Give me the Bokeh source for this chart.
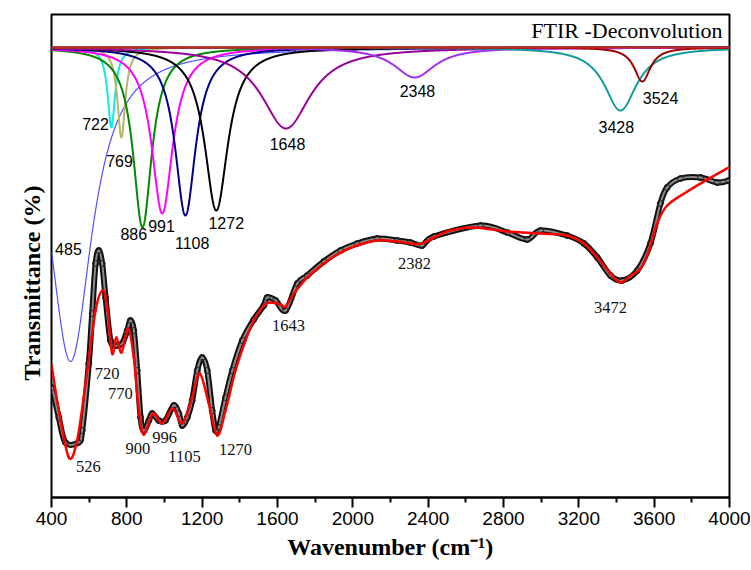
import numpy as np
from bokeh.plotting import figure
from bokeh.models import Range1d, FixedTicker, Label, ColumnDataSource, Span
from bokeh.core.properties import value
from bokeh.embed import file_html
from bokeh.resources import INLINE

# ---------------- data ----------------
# Deconvolution components (Lorentzian bands)
peak_labels = ["485", "722", "769", "886", "991", "1108", "1272", "1648", "2348", "3428", "3524"]
peak_centers = [501, 718, 771, 883, 988, 1111, 1275, 1645, 2328, 3421, 3537]
peak_depths = [314, 80, 90, 180, 166, 168, 163, 81, 30, 63, 34]
peak_fwhm = [276, 48, 50, 120, 136, 133, 150, 315, 265, 207, 105]
baseline = 450

# Experimental spectrum (open circles)
exp_wavenumber = [404, 439, 474, 543, 563, 598, 616, 634, 651, 669, 687, 713, 740, 775, 802, 819, 837,
                  855, 873, 890, 917, 935, 970, 1005, 1049, 1076, 1094, 1121, 1147, 1174, 1200, 1227,
                  1253, 1271, 1288, 1324, 1360, 1413, 1474, 1527, 1545, 1590, 1643, 1705, 1758, 1846,
                  1935, 2023, 2129, 2236, 2306, 2368, 2430, 2678, 2820, 2926, 2997, 3138, 3227, 3298,
                  3368, 3430, 3510, 3580, 3633, 3669, 3740, 3846, 3935, 3996]
exp_transmittance = [110, 80, 55, 55, 67, 134, 184, 234, 247, 234, 200, 157, 152, 154, 167, 177, 167,
                     127, 80, 67, 77, 84, 77, 77, 92, 84, 72, 80, 97, 127, 140, 127,
                     87, 67, 70, 100, 127, 157, 178, 192, 200, 197, 187, 214, 222, 236,
                     247, 254, 259, 257, 255, 252, 261, 272, 265, 258, 267, 262, 254, 240,
                     222, 217, 227, 254, 294, 310, 319, 320, 315, 317]

# Fitted spectrum (red line)
fit_wavenumber = [400, 439, 492, 536, 581, 634, 672, 696, 722, 744, 772, 807, 837, 864, 890, 938, 988,
                  1044, 1094, 1147, 1187, 1235, 1280, 1324, 1377, 1430, 1474, 1527, 1563, 1616, 1643,
                  1687, 1758, 1846, 1935, 2023, 2129, 2236, 2306, 2368, 2430, 2519, 2642, 2820, 2997,
                  3138, 3227, 3298, 3368, 3421, 3475, 3528, 3572, 3616, 3669, 3776, 3882, 3996]
fit_transmittance = [133, 87, 40, 57, 114, 187, 207, 190, 144, 160, 145, 169, 140, 87, 63, 84, 74,
                     89, 74, 100, 124, 94, 62, 87, 127, 157, 177, 192, 195, 193, 191,
                     204, 220, 234, 245, 252, 257, 256, 254, 254, 260, 267, 270, 266, 264,
                     262, 254, 240, 224, 215, 222, 229, 247, 274, 292, 306, 318, 330]

exp_labels = ["526", "720", "770", "900", "996", "1105", "1270", "1643", "2382", "3472"]

x_ticks = [400, 800, 1200, 1600, 2000, 2400, 2800, 3200, 3600, 4000]
x_minor = [600, 1000, 1400, 1800, 2200, 2600, 3000, 3400, 3800]

# ---------------- styles / layout ----------------
peak_colors = ["#5050ff", "#10e8f0", "#b8b46c", "#008a00", "#ff00ff", "#00008b", "#000000",
               "#990099", "#a52cf0", "#119c9c", "#a00000"]
peak_widths = [1.2, 2, 2, 2, 2, 2, 2, 2, 2, 2, 2]
peak_label_x = [490, 634, 761, 837, 984, 1147, 1328, 1653, 2343, 3399, 3634]
peak_label_y = [249, 374, 337, 264, 272, 255, 275, 354, 407, 371, 400]
exp_label_x = [596, 696, 766, 859, 1000, 1106, 1377, 1658, 2328, 3368]
exp_label_y = [31, 124, 104, 49, 60, 41, 48, 172, 234, 190]

p = figure(width=751, height=570, output_backend="svg", toolbar_location=None,
           x_range=Range1d(400, 4000), y_range=Range1d(0, 483),
           min_border_left=51, min_border_right=22, min_border_top=14, min_border_bottom=73)
p.background_fill_color = "white"
p.border_fill_color = "white"
p.outline_line_color = "black"
p.outline_line_width = 2
p.xgrid.visible = False
p.ygrid.visible = False

ya = p.yaxis[0]
ya.ticker = FixedTicker(ticks=[])
ya.major_label_text_font_size = "0px"
ya.major_label_standoff = 0
ya.major_tick_out = 0
ya.major_tick_in = 0
ya.minor_tick_out = 0
ya.minor_tick_in = 0
ya.axis_line_color = None
ya.axis_label = "Transmittance (%)" + "\u00a0" * 9
ya.axis_label_text_font = "Liberation Serif"
ya.axis_label_text_font_style = "bold"
ya.axis_label_text_font_size = "24px"
ya.axis_label_text_color = "black"
ya.axis_label_standoff = 7

xa = p.xaxis[0]
xa.ticker = FixedTicker(ticks=x_ticks, minor_ticks=x_minor)
xa.axis_line_width = 2
xa.major_tick_line_width = 2
xa.minor_tick_line_width = 2
xa.major_tick_out = 10
xa.major_tick_in = 0
xa.minor_tick_out = 5
xa.minor_tick_in = 0
xa.major_label_standoff = 4
xa.major_label_text_font = "Liberation Sans"
xa.major_label_text_font_size = "19px"
xa.major_label_text_color = "black"
xa.axis_label = "Wavenumber (cm\u207b\u00b9)"
xa.axis_label_text_font = "Liberation Serif"
xa.axis_label_text_font_style = "bold"
xa.axis_label_text_font_size = "24px"
xa.axis_label_text_color = "black"
xa.axis_label_standoff = 6


def smooth_curve(fig, xs, ys, **kw):
    """Draw a smooth curve through the given points as Bezier segments (Catmull-Rom)."""
    x = np.asarray(xs, float)
    y = np.asarray(ys, float)
    xp = np.concatenate([[x[0]], x, [x[-1]]])
    yp = np.concatenate([[y[0]], y, [y[-1]]])
    n = len(x) - 1
    i = np.arange(n) + 1
    cx0 = xp[i] + (xp[i + 1] - xp[i - 1]) / 6.0
    cy0 = yp[i] + (yp[i + 1] - yp[i - 1]) / 6.0
    cx1 = xp[i + 1] - (xp[i + 2] - xp[i]) / 6.0
    cy1 = yp[i + 1] - (yp[i + 2] - yp[i]) / 6.0
    src = ColumnDataSource(dict(x0=x[:-1], y0=y[:-1], x1=x[1:], y1=y[1:],
                                cx0=cx0, cy0=cy0, cx1=cx1, cy1=cy1))
    fig.bezier(x0="x0", y0="y0", x1="x1", y1="y1", cx0="cx0", cy0="cy0",
               cx1="cx1", cy1="cy1", source=src, line_cap="round", **kw)


# deconvolution components
grid = np.linspace(400, 4000, 3601)
for c, d, w, col, lw in zip(peak_centers, peak_depths, peak_fwhm, peak_colors, peak_widths):
    yv = baseline - d / (1.0 + ((grid - c) / (w / 2.0)) ** 2)
    p.line(grid, yv, line_color=col, line_width=lw)
p.add_layout(Span(location=baseline, dimension="width", line_color="#c42a1e", line_width=2))

# experimental: drawn as a band of open circles
smooth_curve(p, exp_wavenumber, exp_transmittance, line_color="#111111", line_width=6)
smooth_curve(p, exp_wavenumber, exp_transmittance, line_color="#8a8a8a", line_width=2)
p.scatter(exp_wavenumber, exp_transmittance, marker="circle", size=6, fill_color=None,
          line_color="#222222", line_width=1)
# fit
smooth_curve(p, fit_wavenumber, fit_transmittance, line_color="#ff0000", line_width=2.5)

# labels
src_peaks = ColumnDataSource(dict(x=peak_label_x, y=peak_label_y, t=peak_labels))
p.text("x", "y", text="t", source=src_peaks, text_font=value("Liberation Sans"),
       text_font_size="16px", text_align="center", text_baseline="middle", text_color="black")
src_exp = ColumnDataSource(dict(x=exp_label_x, y=exp_label_y, t=exp_labels))
p.text("x", "y", text="t", source=src_exp, text_font=value("Liberation Serif"),
       text_font_size="16.5px", text_align="center", text_baseline="middle", text_color="#111111")

p.add_layout(Label(x=3963, y=467, text="FTIR -Deconvolution", text_font="Liberation Serif",
                   text_font_size="22px", text_align="right", text_baseline="middle",
                   text_color="black"))

open("out.html", "w").write(file_html(p, INLINE))
